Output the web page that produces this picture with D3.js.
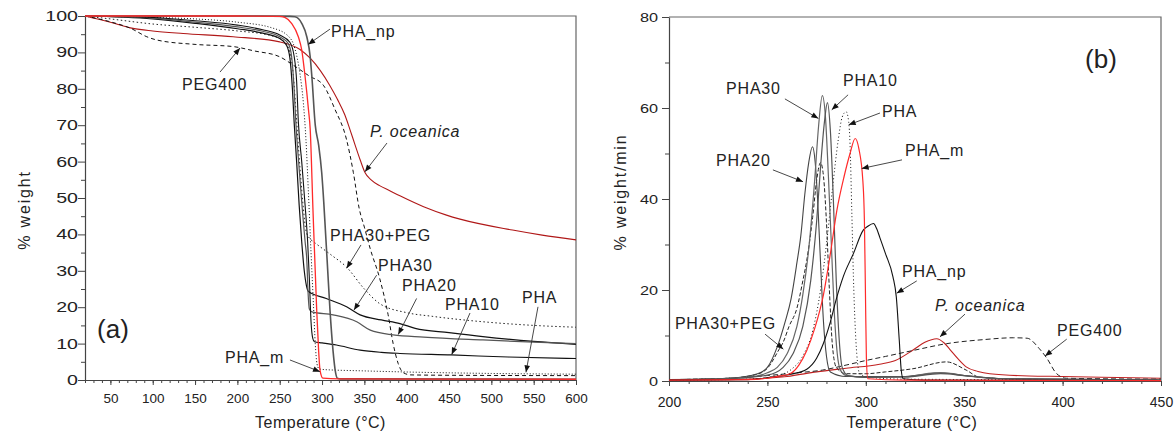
<!DOCTYPE html>
<html>
<head>
<meta charset="utf-8">
<script src="https://cdn.jsdelivr.net/npm/d3@7"></script>
<style>
body { margin: 0; background: #fff; }
text { font-family: "Liberation Sans", Arial, sans-serif; fill: #222; }
</style>
</head>
<body>
<svg id="chart" width="1175" height="436"></svg>
<script>
// ---- (a) TGA curves: [temperature °C, % weight]
const tgaPHA = [[20,100],[100,99.6],[150,99.2],[200,98.3],[240,96.8],[260,94.5],[268,91],[274,84],[278,76],[281,66],[284,51],[287,35],[290,20],[292,10],[294,4.5],[296,3.2],[300,2.9],[350,2.5],[400,2.2],[500,1.8],[600,1.6]];
const tgaPHAm = [[20,100],[200,100],[250,99.9],[256,99.6],[264,98],[272,94.3],[276,90.7],[280,83.3],[284,74.2],[286,69],[289.3,46.7],[293.7,19.2],[296,8],[297.6,2.7],[301,0.5],[320,0.3],[600,0.2]];
const tgaPHAnp = [[20,100],[200,100],[262,99.9],[268,99.8],[276,98],[282,94.3],[286,88.8],[288,83.3],[292,70],[296,64.5],[299.6,57],[302,49],[304,41],[306,33],[309.4,19.2],[313,8],[316,2],[318,0.5],[322,0.3],[600,0.2]];
const tgaPHA10 = [[20,100],[100,99.6],[150,98.7],[200,97.5],[230,96.2],[250,94.8],[262,92.8],[267,89],[270,82],[272,71],[276,60],[280,48],[283,38],[285,28],[287,16],[289,11.5],[291,10.5],[300,10.2],[317,9.6],[345,8.2],[370,7.6],[392,7.3],[453,6.9],[520,6.3],[600,5.9]];
const tgaPHA20 = [[20,100],[100,99.4],[150,98.3],[200,97],[230,95.8],[250,94.3],[260,92.5],[264,89],[267,80],[269,71],[273,58],[277,46],[280,38],[282,33],[283.5,24],[285,19.5],[288,18.7],[313,17.9],[341,16],[357,13.7],[384,12.4],[420,11.8],[490,11],[550,10.4],[600,10]];
const tgaPHA30 = [[20,100],[100,99.2],[150,98],[200,96.5],[230,95.3],[250,93.8],[258,92],[262,88.5],[265,80],[267,71],[270,60],[273,48],[276,38],[279,30],[281.5,26],[284,24.3],[305,22.4],[329,20.1],[345,17.9],[370,16.5],[392,15.5],[410,14.2],[450,13],[490,11.9],[550,10.6],[600,9.8]];
const tgaPHA30PEG = [[20,100],[50,99.2],[100,97.8],[150,96.9],[200,95.9],[240,94.6],[255,93],[262,90],[266,84],[270,71],[274,58],[278,47],[281,41],[285,39],[290,38],[310,34.5],[329,31],[350,25],[368,21],[400,18.5],[430,17.5],[500,15.8],[550,15],[600,14.5]];
const tgaPEG400 = [[20,100],[50,98.4],[75,96.5],[93,94.3],[105,93.4],[150,92.2],[195,91.6],[220,90.4],[250,88.8],[266,86.5],[285,83.5],[301.5,81],[315,74.5],[329,66],[337,57],[344,47],[350,42],[357,36],[368,28],[378,18],[384,10],[390,4.5],[396,2],[405,1.4],[450,1.3],[600,1.2]];
const tgaPoce = [[20,100],[50,98.3],[76.7,96.6],[100,95.9],[136,95.2],[195,94.3],[250,92.9],[274,90.8],[286,88.4],[298,85],[309,81],[318,77.2],[327,72.8],[333,68.8],[339,64.6],[345,60.5],[350.7,57],[358,55],[368,53.4],[380,52],[392,50.6],[420,47.6],[447,45.3],[463,44.2],[525,41.2],[560,39.8],[600,38.5]];

// ---- (b) DTG curves: [temperature °C, % weight/min]
const dtgPHA = [[200,0.2],[240,0.4],[255,1.2],[262,2.5],[268,5.5],[273,11],[277,20],[280,30],[283,42],[286,53],[288,58],[290,59.2],[291.3,57],[292,52],[292.9,37],[293.7,23],[295.4,6],[297,1.5],[302,0.8],[320,0.4],[450,0.2]];
const dtgPHAm = [[200,0.2],[240,0.3],[250,0.6],[255,1],[261.5,1.6],[266,3.5],[270,6.7],[274,11.5],[278.5,19],[282,28],[285.3,37.5],[289,45],[292,50],[294.6,53.3],[296.5,51],[298.5,44],[299.3,35],[299.8,20],[300.3,5],[301,0.5],[320,0.2],[450,0.1]];
const dtgPHAnp = [[200,0.2],[240,0.3],[253,0.9],[262,1.5],[270,2.6],[275,5],[278.4,8.2],[282,13],[285,18],[288.6,23],[293.7,28],[298.8,33.2],[301,34],[303.9,34.6],[305.5,33.5],[307,31.7],[310,28],[313.8,22.9],[315.5,18.5],[317,9],[318,2.4],[319,0.5],[330,0.2],[450,0.1]];
const dtgPHA10 = [[200,0.3],[230,0.5],[250,1.3],[258,3],[263,6],[268,12],[272,22],[275,35],[277,47],[279,57],[280.5,61.2],[282,55],[283.5,40],[285,22],[286.5,9],[288,3],[291,1.2],[300,0.8],[320,0.9],[338,1.6],[350,1.2],[370,0.5],[450,0.2]];
const dtgPHA20 = [[200,0.3],[230,0.6],[245,1.6],[250,3],[255,7.5],[259,13],[262,18],[265,26],[267,32],[269,41],[271,48],[272.9,51.5],[274.3,48],[275.5,40],[277,26],[278.5,13],[280,5.5],[282,2],[290,1],[320,1],[338,1.8],[350,1.2],[370,0.5],[450,0.2]];
const dtgPHA30 = [[200,0.3],[220,0.4],[240,0.8],[250,1.8],[255,3],[260,6],[265,12],[268,19],[271,29],[274,44],[276,56],[277.9,62.7],[279.5,58],[281,45],[282.5,30],[284,15],[285.5,6],[287,2.5],[290,1.2],[300,0.8],[320,0.9],[335,1.8],[340,1.8],[350,1.2],[370,0.5],[450,0.2]];
const dtgPHA30PEG = [[200,0.3],[230,0.6],[245,1.5],[250,2.8],[256,7],[258,8.5],[261,12],[265,16],[268,22],[270,26.5],[273,36],[275,44],[277,48],[278.5,45],[280,35],[281.5,20],[283,8],[285,3],[290,1.6],[300,1.6],[310,2],[324,2.7],[341,4.2],[351,2.4],[358,0.8],[380,0.4],[450,0.2]];
const dtgPEG400 = [[200,0.3],[230,0.6],[250,1.2],[265,1.8],[278,2.4],[290,3.5],[300,4.5],[310,5.4],[325,6.8],[341,8.2],[360,9.1],[375,9.5],[382,9.4],[388,7.2],[392,5],[397,1.6],[402,0.6],[450,0.4]];
const dtgPoce = [[200,0.2],[230,0.3],[244.6,0.5],[260,1],[275,2],[290,2.8],[307,3.7],[315,4.5],[324,6.8],[330,8.5],[336,9.3],[340,8.3],[343,6.8],[347,4.8],[351,3.1],[357,2.1],[363,1.6],[383,1.1],[400,1],[436,0.7],[450,0.6]];

// ---- axis ranges and ticks
const tgaXDomain = [20, 600], tgaYDomain = [0, 100];
const tgaXTicks = d3.range(50, 601, 50), tgaXMinor = d3.range(20, 601, 10);
const tgaYTicks = d3.range(0, 101, 10), tgaYMinor = d3.range(5, 100, 10);
const dtgXDomain = [200, 450], dtgYDomain = [0, 80];
const dtgXTicks = d3.range(200, 451, 50), dtgXMinor = d3.range(200, 451, 10);
const dtgYTicks = d3.range(0, 81, 20), dtgYMinor = d3.range(10, 80, 20);

// ---- annotations: label, text anchor [T, value], arrow from, arrow to
const tgaNotes = [
  {t: "PHA_np", at: [310.6, 94.2], from: [309.4, 96.4], to: [283.6, 92.2]},
  {t: "P. oceanica", at: [356.6, 66.8], from: [376.7, 65.1], to: [350.7, 57.2], italic: true},
  {t: "PEG400", at: [134.6, 79.7], from: [179.5, 84.6], to: [203.1, 91.2]},
  {t: "PHA30+PEG", at: [309.4, 38.2], from: [346, 37.1], to: [329.1, 30.7]},
  {t: "PHA30", at: [366.1, 29.9], from: [364.5, 28.8], to: [337.7, 19.2]},
  {t: "PHA20", at: [394.4, 24.5], from: [411.7, 22.4], to: [390, 12.5]},
  {t: "PHA10", at: [445.2, 19.2], from: [474.8, 18.4], to: [453.2, 7]},
  {t: "PHA", at: [536.2, 21.2], from: [555.1, 20.1], to: [540.9, 2.1]},
  {t: "PHA_m", at: [185.4, 4.7], from: [262.1, 5.5], to: [297.6, 2.3]}
];
const dtgNotes = [
  {t: "PHA30", at: [229, 63.1], from: [258.9, 62], to: [275.9, 57.7]},
  {t: "PHA10", at: [288.4, 64.8], from: [291, 62.9], to: [282.7, 59.6]},
  {t: "PHA", at: [308.2, 58], from: [307.2, 58.9], to: [291.3, 56.3]},
  {t: "PHA_m", at: [319.9, 49.5], from: [318.4, 48.6], to: [297.9, 46.7]},
  {t: "PHA20", at: [223.9, 47.3], from: [252.8, 46.4], to: [268.1, 43.8]},
  {t: "PHA_np", at: [318.4, 22.9], from: [325.9, 22], to: [315.7, 19.3]},
  {t: "P. oceanica", at: [335.2, 15.4], from: [350.4, 14.7], to: [337.7, 9.7], italic: true},
  {t: "PEG400", at: [397.2, 9.9], from: [402.1, 9.2], to: [391.1, 5.5]},
  {t: "PHA30+PEG", at: [203, 11.4], from: [248.8, 10.3], to: [258.1, 7.0]}
];

const svg = d3.select("#chart");

svg.append("defs").append("marker")
  .attr("id", "ah")
  .attr("viewBox", "0 0 10 10")
  .attr("refX", 10).attr("refY", 5)
  .attr("markerWidth", 9).attr("markerHeight", 7)
  .attr("markerUnits", "userSpaceOnUse")
  .attr("orient", "auto")
  .append("path").attr("d", "M0,1L10,5L0,9z").attr("fill", "#111");

function panel(cfg) {
  const x = d3.scaleLinear().domain(cfg.xDomain).range([cfg.left, cfg.right]);
  const y = d3.scaleLinear().domain(cfg.yDomain).range([cfg.bottom, cfg.top]);
  const g = svg.append("g");

  // frame (top + right)
  g.append("path")
    .attr("d", `M${cfg.left},${cfg.top}H${cfg.right}V${cfg.bottom}`)
    .attr("fill", "none").attr("stroke", "#666").attr("stroke-width", 1.2);

  // minor ticks
  g.append("g").attr("transform", `translate(0,${cfg.bottom})`)
    .call(d3.axisBottom(x).tickValues(cfg.xMinor).tickSize(3).tickFormat(""))
    .call(a => a.select(".domain").remove())
    .selectAll("line").attr("stroke", "#444");
  g.append("g").attr("transform", `translate(${cfg.left},0)`)
    .call(d3.axisLeft(y).tickValues(cfg.yMinor).tickSize(4).tickFormat(""))
    .call(a => a.select(".domain").remove())
    .selectAll("line").attr("stroke", "#444");

  // major ticks
  const xa = g.append("g").attr("transform", `translate(0,${cfg.bottom})`)
    .call(d3.axisBottom(x).tickValues(cfg.xTicks).tickSize(5).tickSizeOuter(0).tickPadding(cfg.xPad));
  xa.selectAll("text").attr("font-size", cfg.xFont).attr("font-family", null).attr("fill", "#222");
  const ya = g.append("g").attr("transform", `translate(${cfg.left},0)`)
    .call(d3.axisLeft(y).tickValues(cfg.yTicks).tickSize(7).tickSizeOuter(0));
  ya.selectAll("text").attr("font-size", cfg.yFont).attr("font-family", null).attr("fill", "#222")
    .attr("x", cfg.yLabelX).attr("transform", `scale(${cfg.yStretch},1)`);
  g.selectAll(".domain").attr("stroke", "#444").attr("stroke-width", 1.2);
  g.selectAll(".tick line").attr("stroke", "#444");

  // curves
  const line = d3.line().x(d => x(d[0])).y(d => y(d[1])).curve(d3.curveMonotoneX);
  g.append("g").selectAll("path").data(cfg.series).join("path")
    .attr("d", d => line(d.values))
    .attr("fill", "none")
    .attr("stroke", d => d.color)
    .attr("stroke-width", d => d.width || 1)
    .attr("stroke-dasharray", d => d.dash || null);

  // annotations
  const notes = g.append("g");
  notes.selectAll("line").data(cfg.notes).join("line")
    .attr("x1", d => x(d.from[0])).attr("y1", d => y(d.from[1]))
    .attr("x2", d => x(d.to[0])).attr("y2", d => y(d.to[1]))
    .attr("stroke", "#333").attr("stroke-width", 0.9)
    .attr("marker-end", "url(#ah)");
  notes.selectAll("text").data(cfg.notes).join("text")
    .attr("x", d => x(d.at[0])).attr("y", d => y(d.at[1]))
    .attr("font-size", 16).attr("letter-spacing", 0.8)
    .attr("font-style", d => d.italic ? "italic" : null)
    .attr("fill", "#333")
    .text(d => d.t);

  // panel tag
  g.append("text")
    .attr("x", x(cfg.tag.at[0])).attr("y", y(cfg.tag.at[1]))
    .attr("font-family", "'Liberation Serif', 'Times New Roman', serif")
    .attr("font-size", 26).text(cfg.tag.t);

  // axis titles
  g.append("text")
    .attr("x", (cfg.left + cfg.right) / 2 - cfg.xTitleShift).attr("y", 428)
    .attr("text-anchor", "middle").attr("font-size", 16).attr("letter-spacing", 0.5)
    .text("Temperature (°C)");
  g.append("text")
    .attr("transform", `translate(${cfg.yTitle[0]},${cfg.yTitle[1]}) rotate(-90)`)
    .attr("text-anchor", "middle").attr("font-size", 16).attr("letter-spacing", 1.8)
    .text(cfg.yLabel);
}

panel({
  left: 85, right: 576, top: 16, bottom: 380,
  xDomain: tgaXDomain, yDomain: tgaYDomain,
  xTicks: tgaXTicks, xMinor: tgaXMinor, yTicks: tgaYTicks, yMinor: tgaYMinor,
  xFont: 13.5, yFont: 14, yStretch: 1.4, yLabelX: -5, xPad: 8,
  yLabel: "% weight", yTitle: [30, 210], xTitleShift: 10,
  tag: {t: "(a)", at: [34.2, 11.5]},
  notes: tgaNotes,
  series: [
    {values: tgaPoce, color: "#b01818", width: 1.1},
    {values: tgaPEG400, color: "#111", dash: "4,3"},
    {values: tgaPHA30PEG, color: "#222", dash: "1.5,2.5"},
    {values: tgaPHA, color: "#111", dash: "1,2"},
    {values: tgaPHA30, color: "#111", width: 1.2},
    {values: tgaPHA20, color: "#555", width: 1.2},
    {values: tgaPHA10, color: "#111", width: 1.1},
    {values: tgaPHAnp, color: "#555", width: 1.6},
    {values: tgaPHAm, color: "#ff2a2a", width: 1.3}
  ]
});

panel({
  left: 669, right: 1161, top: 17, bottom: 381,
  xDomain: dtgXDomain, yDomain: dtgYDomain,
  xTicks: dtgXTicks, xMinor: dtgXMinor, yTicks: dtgYTicks, yMinor: dtgYMinor,
  xFont: 14, yFont: 13, yStretch: 1.25, yLabelX: -8.8, xPad: 11,
  yLabel: "% weight/min", yTitle: [626, 192], xTitleShift: 3,
  tag: {t: "(b)", at: [411.4, 68.8]},
  notes: dtgNotes,
  series: [
    {values: dtgPoce, color: "#c02020", width: 1.1},
    {values: dtgPEG400, color: "#222", dash: "5,3"},
    {values: dtgPHA30PEG, color: "#222", dash: "4,2"},
    {values: dtgPHA, color: "#111", dash: "1,2.5"},
    {values: dtgPHA20, color: "#444", width: 1.1},
    {values: dtgPHA30, color: "#666", width: 1.2},
    {values: dtgPHA10, color: "#555", width: 1.2},
    {values: dtgPHAnp, color: "#111", width: 1.1},
    {values: dtgPHAm, color: "#ff2a2a", width: 1.2}
  ]
});
</script>
</body>
</html>
